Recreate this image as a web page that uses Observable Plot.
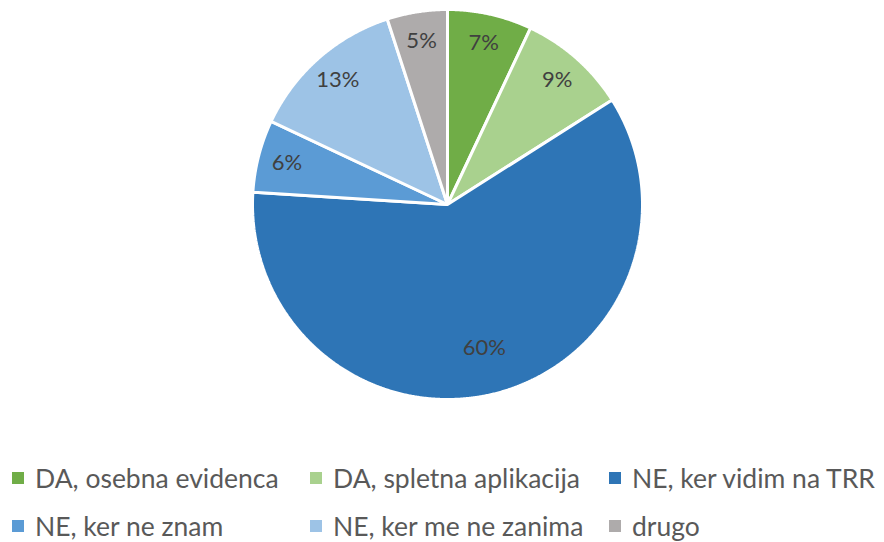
<!DOCTYPE html>
<html>
<head>
<meta charset="utf-8">
<script src="https://cdn.jsdelivr.net/npm/d3@7"></script>
<script src="https://cdn.jsdelivr.net/npm/@observablehq/plot@0.6"></script>
<style>
  html, body { margin: 0; padding: 0; background: #fff; }
  #wrap { position: relative; width: 884px; height: 542px; overflow: hidden; font-family: Lato, "Open Sans", sans-serif; }
  #wrap svg { position: absolute; left: 0; top: 0; }
  .item { position: absolute; height: 30px; display: flex; align-items: center; font-size: 26.5px; line-height: 30px; color: #595959; white-space: nowrap; }
  .sw { width: 12px; height: 12px; margin-right: 11px; flex: none; }
</style>
</head>
<body>
<div id="wrap"></div>
<script>
const categories = ["DA, osebna evidenca", "DA, spletna aplikacija", "NE, ker vidim na TRR", "NE, ker ne znam", "NE, ker me ne zanima", "drugo"];
const values = [7, 9, 60, 6, 13, 5];
const labels = ["7%", "9%", "60%", "6%", "13%", "5%"];
const colors = ["#70AD47", "#A9D18E", "#2E75B6", "#5B9BD5", "#9DC3E6", "#AEABAB"];

const arcs = d3.pie().sort(null).value(d => d)(values);

// polygon points for each slice, in unit-circle coordinates
const slicePts = [];
arcs.forEach((a, i) => {
  const n = Math.max(4, Math.ceil((a.endAngle - a.startAngle) / 0.005));
  slicePts.push({cat: categories[i], x: 0, y: 0});
  for (let k = 0; k <= n; k++) {
    const t = a.startAngle + (a.endAngle - a.startAngle) * k / n;
    slicePts.push({cat: categories[i], x: Math.sin(t), y: Math.cos(t)});
  }
});

const labelPts = arcs.map((a, i) => {
  const t = (a.startAngle + a.endAngle) / 2;
  const r = values[i] > 30 ? 0.76 : 0.85;
  return {text: labels[i], x: r * Math.sin(t), y: r * Math.cos(t)};
});

const chart = Plot.plot({
  width: 884,
  height: 440,
  marginLeft: 252,
  marginRight: 242,
  marginTop: 9,
  marginBottom: 41,
  x: {domain: [-1, 1], axis: null},
  y: {domain: [-1, 1], axis: null},
  color: {domain: categories, range: colors},
  style: {background: "transparent"},
  marks: [
    Plot.line(slicePts, {x: "x", y: "y", z: "cat", fill: "cat", stroke: "white", strokeWidth: 3, strokeLinejoin: "miter", curve: "linear-closed"}),
    Plot.text(labelPts, {x: "x", y: "y", text: "text", fill: "#404040", fontSize: 22, fontFamily: "Lato, 'Open Sans', sans-serif"})
  ]
});

const wrap = document.getElementById("wrap");
wrap.appendChild(chart);

const colLeft = [12, 310, 609];
const rowTop = [463, 511];
categories.forEach((c, i) => {
  const d = document.createElement("div");
  d.className = "item";
  d.style.left = colLeft[i % 3] + "px";
  d.style.top = rowTop[Math.floor(i / 3)] + "px";
  const sw = document.createElement("span");
  sw.className = "sw";
  sw.style.background = colors[i];
  const tx = document.createElement("span");
  tx.textContent = c;
  d.appendChild(sw);
  d.appendChild(tx);
  wrap.appendChild(d);
});
</script>
</body>
</html>
